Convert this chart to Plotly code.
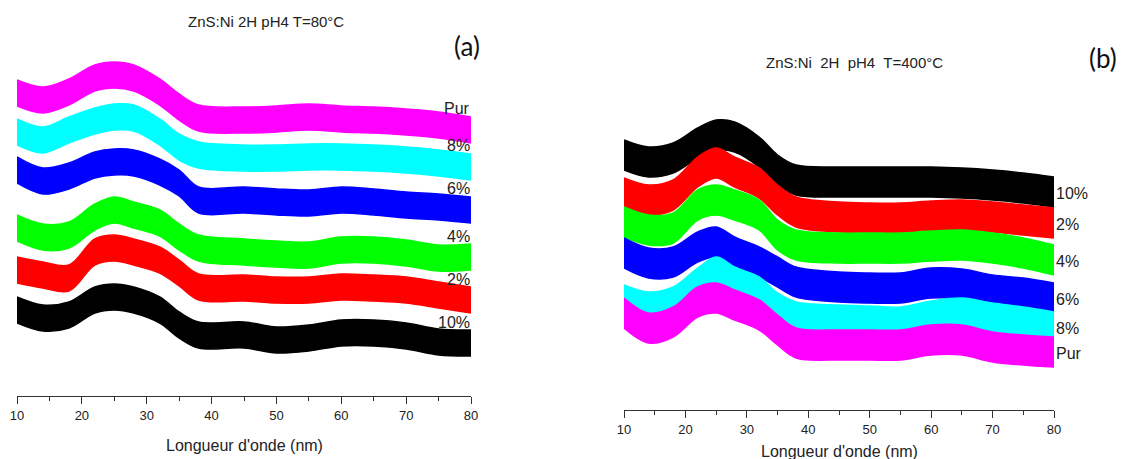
import plotly.graph_objects as go

# === Data (intensity, a.u.) ===
wavelength = [10, 14, 18, 22, 25, 28, 32, 35, 38, 45, 50, 55, 60, 65, 70, 75, 80]

# panel (a) : T=80°C
a_pur = [303, 296, 304, 318, 321, 318, 304, 289, 278, 276, 277, 279, 277, 276, 274, 271, 266]
a_8 = [264, 256, 266, 275, 279, 278, 264, 249, 241, 238, 238, 239, 239, 238, 236, 233, 229]
a_6 = [226, 215, 220, 231, 234, 233, 224, 213, 196, 196, 194, 193, 196, 194, 191, 189, 186]
a_4 = [168, 159, 161, 179, 186, 181, 173, 159, 148, 144, 142, 141, 146, 146, 143, 138, 139]
a_2 = [126, 121, 118, 144, 148, 144, 136, 123, 109, 108, 106, 106, 109, 108, 106, 101, 96]
a_10 = [86, 78, 81, 96, 99, 96, 86, 71, 61, 61, 56, 58, 63, 63, 60, 54, 53]

# panel (b) : T=400°C
b_10 = [255, 248, 252, 267, 275, 273, 258, 240, 230, 228, 228, 228, 228, 227, 225, 222, 218]
b_2 = [217, 210, 215, 238, 247, 238, 227, 210, 198, 193, 192, 192, 194, 195, 193, 190, 187]
b_4 = [188, 180, 182, 205, 210, 205, 195, 175, 165, 162, 162, 162, 164, 165, 162, 157, 150]
b_6 = [157, 147, 148, 163, 168, 158, 148, 138, 128, 123, 122, 122, 127, 126, 120, 117, 112]
b_8 = [110, 103, 108, 127, 138, 128, 118, 102, 93, 90, 89, 88, 94, 97, 92, 88, 83]
b_pur = [97, 82, 88, 108, 112, 105, 95, 80, 67, 65, 65, 65, 70, 70, 63, 60, 58]

noise_a = 13  # half spread of the noisy signal
noise_b = 15

ticks = [10, 20, 30, 40, 50, 60, 70, 80]

series_a = [
    ("Pur", a_pur, "#ff00ff"),
    ("8%", a_8, "#00ffff"),
    ("6%", a_6, "#0000ff"),
    ("4%", a_4, "#00ff00"),
    ("2%", a_2, "#ff0000"),
    ("10%", a_10, "#000000"),
]
series_b = [
    ("10%", b_10, "#000000"),
    ("2%", b_2, "#ff0000"),
    ("4%", b_4, "#00ff00"),
    ("6%", b_6, "#0000ff"),
    ("8%", b_8, "#00ffff"),
    ("Pur", b_pur, "#ff00ff"),
]

fig = go.Figure()


def add_band(vals, color, noise, xa, ya):
    low = [v - noise for v in vals]
    high = [v + noise for v in vals]
    fig.add_trace(go.Scatter(x=wavelength, y=low, mode="lines", line=dict(color=color, width=1.5, shape="spline"),
                             xaxis=xa, yaxis=ya, showlegend=False, hoverinfo="skip"))
    fig.add_trace(go.Scatter(x=wavelength, y=high, mode="lines", fill="tonexty", fillcolor=color,
                             line=dict(color=color, width=1.5, shape="spline"),
                             xaxis=xa, yaxis=ya, showlegend=False, hoverinfo="skip"))


for name, vals, color in series_a:
    add_band(vals, color, noise_a, "x", "y")
for name, vals, color in series_b:
    add_band(vals, color, noise_b, "x2", "y2")

lab_font = dict(family="Liberation Sans Narrow, Liberation Sans, Arial", size=16, color="#222")
annotations = []
# curve labels, panel (a): sit just above the end of each trace
for name, vals, color in series_a:
    annotations.append(dict(x=80, y=vals[-1], xref="x", yref="y", text=name, showarrow=False,
                            font=lab_font, xanchor="right", yanchor="middle", yshift=21, xshift=1))
# curve labels, panel (b): right of the end of each trace
for name, vals, color in series_b:
    annotations.append(dict(x=80, y=vals[-1], xref="x2", yref="y2", text=name, showarrow=False,
                            font=lab_font, xanchor="left", yanchor="middle", xshift=0, yshift=-1))


def paper_text(px, py, text, font):
    # place a text centred on a pixel position of the 1131x459 page
    return dict(x=px / 1131, y=1 - py / 459, xref="paper", yref="paper", text=text, showarrow=False,
                xanchor="center", yanchor="middle", font=font)


txt_font = dict(family="Liberation Sans, Arial", size=15, color="#222")
big_font = dict(family="Lato, Open Sans", size=26, color="#111")
ttl_font = dict(family="Liberation Sans, Arial", size=16, color="#222")
annotations += [
    paper_text(266, 22, "ZnS:Ni 2H pH4 T=80°C", txt_font),
    paper_text(854, 62, "ZnS:Ni  2H  pH4  T=400°C", txt_font),
    paper_text(467, 46, "(a)", big_font),
    paper_text(1103, 58, "(b)", big_font),
    paper_text(244, 445, "Longueur d'onde (nm)", ttl_font),
    paper_text(839, 451, "Longueur d'onde (nm)", ttl_font),
]

xcommon = dict(
    range=[10, 80], tickvals=ticks, showline=True, linecolor="#333", linewidth=1.3,
    ticks="outside", ticklen=7, tickcolor="#333", tickwidth=1.3,
    minor=dict(ticks="outside", dtick=5, ticklen=4, tickcolor="#333"),
    showgrid=False, zeroline=False, automargin=False,
    tickfont=dict(family="Liberation Sans, Arial", size=13, color="#222"),
)
ycommon = dict(visible=False, showgrid=False, zeroline=False)

fig.update_layout(
    width=1131, height=459, autosize=False,
    margin=dict(l=0, r=0, t=0, b=0, pad=0),
    paper_bgcolor="white", plot_bgcolor="white",
    xaxis=dict(domain=[17 / 1131, 471 / 1131], anchor="y", **xcommon),
    yaxis=dict(domain=[(459 - 396) / 459, (459 - 40) / 459], range=[0, 356], anchor="x", **ycommon),
    xaxis2=dict(domain=[624 / 1131, 1054 / 1131], anchor="y2", **xcommon),
    yaxis2=dict(domain=[(459 - 410) / 459, (459 - 100) / 459], range=[0, 310], anchor="x2", **ycommon),
    annotations=annotations,
)

fig.write_html(
    "out.html",
    config={"displayModeBar": False, "responsive": False},
    post_script="document.body.style.margin='0px';document.body.style.overflow='hidden';",
)
